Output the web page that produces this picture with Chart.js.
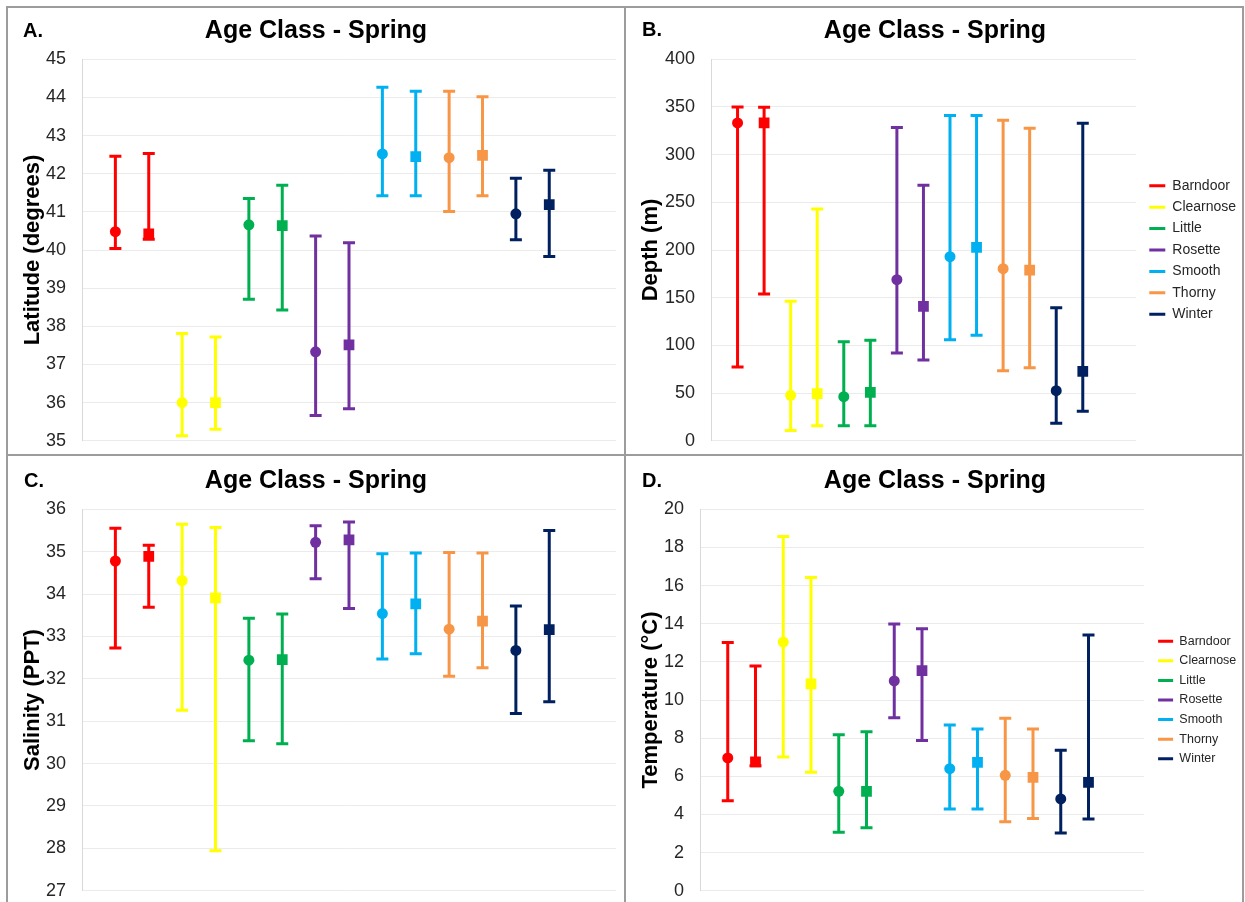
<!DOCTYPE html>
<html>
<head>
<meta charset="utf-8">
<script src="https://cdn.jsdelivr.net/npm/chart.js@4.4.1/dist/chart.umd.min.js"></script>
<style>
  html, body { margin: 0; padding: 0; background: #fff; }
  #page { position: relative; width: 1245px; height: 902px; overflow: hidden;
          font-family: "Liberation Sans", Arial, sans-serif; }
  .panel { position: absolute; width: 616px; height: 446px; }
  .rule { position: absolute; background: #9c9c9c; }
  .tag { position: absolute; font-weight: bold; font-size: 20px; line-height: 20px; color: #000; }
  .ttl { position: absolute; width: 400px; text-align: center; font-weight: bold;
         font-size: 25px; line-height: 30px; color: #000; white-space: nowrap; }
</style>
</head>
<body>
<div id="page">
  <div class="panel" style="left:8px;top:8px"><canvas id="chartLat" width="616" height="446"></canvas></div>
  <div class="panel" style="left:626px;top:8px"><canvas id="chartDepth" width="616" height="446"></canvas></div>
  <div class="panel" style="left:8px;top:456px"><canvas id="chartSal" width="616" height="446"></canvas></div>
  <div class="panel" style="left:626px;top:456px"><canvas id="chartTemp" width="616" height="446"></canvas></div>

  <div class="rule" style="left:6px;top:6px;width:1238px;height:2px"></div>
  <div class="rule" style="left:6px;top:454px;width:1238px;height:2px"></div>
  <div class="rule" style="left:6px;top:6px;width:2px;height:896px"></div>
  <div class="rule" style="left:624px;top:6px;width:2px;height:896px"></div>
  <div class="rule" style="left:1242px;top:6px;width:2px;height:896px"></div>

  <div class="tag" style="left:23px;top:20px">A.</div>
  <div class="tag" style="left:642px;top:19px">B.</div>
  <div class="tag" style="left:24px;top:470px">C.</div>
  <div class="tag" style="left:642px;top:470px">D.</div>

  <div class="ttl" style="left:116px;top:14px">Age Class - Spring</div>
  <div class="ttl" style="left:735px;top:14px">Age Class - Spring</div>
  <div class="ttl" style="left:116px;top:464px">Age Class - Spring</div>
  <div class="ttl" style="left:735px;top:464px">Age Class - Spring</div>
</div>

<script>
// Skate species, each with two age classes (circle = first class, square = second class)
const species = ['Barndoor', 'Clearnose', 'Little', 'Rosette', 'Smooth', 'Thorny', 'Winter'];
const speciesColors = ['#FF0000', '#FFFF00', '#00B050', '#7030A0', '#00B0F0', '#F79646', '#002060'];
const classStyles = ['circle', 'rect'];

// Values are listed per species as [class 1, class 2]
const latMean = [40.48, 40.42, 36.00, 36.00, 40.66, 40.64, 37.33, 37.51, 42.52, 42.45, 42.42, 42.48, 40.95, 41.19];
const latLow  = [40.04, 40.28, 35.13, 35.30, 38.71, 38.43, 35.66, 35.84, 41.42, 41.42, 41.01, 41.42, 40.27, 39.83];
const latHigh = [42.46, 42.53, 37.81, 37.72, 41.35, 41.70, 40.37, 40.19, 44.27, 44.16, 44.16, 44.02, 41.88, 42.09];

const depthMean = [333.3, 333.3, 47.6, 49.3, 46.2, 50.7, 168.9, 140.9, 193.0, 202.8, 180.4, 179.0, 52.5, 72.7];
const depthLow  = [77.3, 153.9, 10.8, 15.7, 15.7, 15.7, 92.0, 84.6, 106.0, 110.5, 73.4, 76.6, 18.2, 30.8];
const depthHigh = [350.0, 349.7, 146.2, 243.0, 103.9, 105.3, 328.4, 267.9, 341.0, 341.0, 336.0, 327.7, 139.5, 333.0];

const salMean = [34.78, 34.89, 34.32, 33.91, 32.44, 32.45, 35.22, 35.28, 33.54, 33.77, 33.17, 33.36, 32.67, 33.16];
const salLow  = [32.73, 33.69, 31.26, 27.94, 30.54, 30.47, 34.36, 33.66, 32.47, 32.59, 32.06, 32.26, 31.18, 31.46];
const salHigh = [35.55, 35.15, 35.65, 35.57, 33.43, 33.53, 35.61, 35.70, 34.95, 34.97, 34.98, 34.97, 33.72, 35.50];

const tempMean = [6.96, 6.75, 13.04, 10.84, 5.21, 5.21, 11.00, 11.54, 6.40, 6.73, 6.05, 5.94, 4.81, 5.68];
const tempLow  = [4.72, 6.55, 7.01, 6.21, 3.06, 3.30, 9.07, 7.87, 4.28, 4.28, 3.62, 3.79, 3.02, 3.76];
const tempHigh = [13.02, 11.78, 18.58, 16.43, 8.18, 8.34, 13.99, 13.74, 8.69, 8.48, 9.04, 8.48, 7.36, 13.41];

// y-axis tick values: [min, max, step]
const latTicks = [35, 45, 1];
const depthTicks = [0, 400, 50];
const salTicks = [27, 36, 1];
const tempTicks = [0, 20, 2];

const FONT = '"Liberation Sans", Arial, sans-serif';

// Vertical whiskers with caps, drawn behind the markers
const errorBars = {
  id: 'errorBars',
  beforeDatasetsDraw(chart) {
    const ctx = chart.ctx;
    const yScale = chart.scales.y;
    const cap = 6;
    chart.data.datasets.forEach((ds, di) => {
      const meta = chart.getDatasetMeta(di);
      meta.data.forEach((pt, i) => {
        const raw = ds.data[i];
        const yLo = yScale.getPixelForValue(raw.lo);
        const yHi = yScale.getPixelForValue(raw.hi);
        ctx.save();
        ctx.strokeStyle = ds.borderColor;
        ctx.lineWidth = 3;
        ctx.lineCap = 'butt';
        ctx.beginPath();
        ctx.moveTo(pt.x, yLo); ctx.lineTo(pt.x, yHi);
        ctx.moveTo(pt.x - cap, yLo); ctx.lineTo(pt.x + cap, yLo);
        ctx.moveTo(pt.x - cap, yHi); ctx.lineTo(pt.x + cap, yHi);
        ctx.stroke();
        ctx.restore();
      });
    });
  }
};

function buildDatasets(mean, low, high) {
  return species.map((name, s) => ({
    label: name,
    yAxisID: 'y',
    data: classStyles.map((_, c) => {
      const k = 2 * s + c;
      return { x: k + 1, y: mean[k], lo: low[k], hi: high[k] };
    }),
    backgroundColor: speciesColors[s],
    borderColor: speciesColors[s],
    borderWidth: 0,
    showLine: false,
    pointStyle: classStyles,
    pointRadius: [5.5, 7.6],
    pointHoverRadius: [5.5, 7.6],
    pointBorderWidth: 0
  }));
}

function makePanel(id, cfg) {
  const scales = {
    x: { type: 'linear', min: 0, max: 16, display: false },
    y: {
      type: 'linear',
      min: cfg.ticks[0], max: cfg.ticks[1],
      afterFit(scale) { scale.width = cfg.yWidth; },
      ticks: {
        stepSize: cfg.ticks[2],
        padding: 0,
        color: '#262626',
        font: { family: FONT, size: 18 }
      },
      // invisible tick marks keep the labels clear of the axis line
      grid: { color: '#ebebeb', lineWidth: 1, drawTicks: true, tickLength: 16, tickColor: 'rgba(0,0,0,0)' },
      border: { display: true, color: '#d9d9d9', width: 1 },
      title: {
        display: true,
        text: cfg.yTitle,
        color: '#000',
        padding: 0,
        font: { family: FONT, size: 22, weight: 'bold' }
      }
    }
  };
  if (cfg.legend) {
    // spacer between the plot area and the legend column
    scales.gap = {
      type: 'linear', position: 'right', display: true,
      grid: { display: false }, border: { display: false },
      ticks: { display: false },
      afterFit(scale) { scale.width = cfg.legend.gap; }
    };
  }
  const chart = new Chart(document.getElementById(id), {
    type: 'scatter',
    data: { datasets: buildDatasets(cfg.mean, cfg.low, cfg.high) },
    options: {
      responsive: false,
      animation: false,
      events: [],
      layout: { padding: cfg.padding },
      scales,
      plugins: {
        tooltip: { enabled: false },
        title: { display: false },
        legend: cfg.legend ? {
          display: true,
          position: 'right',
          fullSize: false,
          labels: {
            boxWidth: cfg.legend.boxWidth,
            boxHeight: 3,
            padding: cfg.legend.padding,
            color: '#262626',
            font: { family: FONT, size: cfg.legend.fontSize }
          }
        } : { display: false }
      }
    },
    plugins: [errorBars]
  });
  // keep the plot's right edge where the gridlines should end
  if (cfg.plotRight !== undefined) {
    for (let pass = 0; pass < 4; pass++) {
      const diff = chart.chartArea.right - cfg.plotRight;
      if (Math.abs(diff) < 0.2) break;
      chart.options.layout.padding.right += diff;
      chart.update();
    }
  }
  return chart;
}

makePanel('chartLat', {
  yTitle: 'Latitude (degrees)', mean: latMean, low: latLow, high: latHigh, ticks: latTicks,
  yWidth: 62, padding: { top: 51.3, left: 12, right: 8, bottom: 13.3 }
});
makePanel('chartDepth', {
  yTitle: 'Depth (m)', mean: depthMean, low: depthLow, high: depthHigh, ticks: depthTicks,
  yWidth: 73, padding: { top: 51.3, left: 12, right: 0, bottom: 13.3 }, plotRight: 510,
  legend: { gap: 6, boxWidth: 16, padding: 7.4, fontSize: 14 }
});
makePanel('chartSal', {
  yTitle: 'Salinity (PPT)', mean: salMean, low: salLow, high: salHigh, ticks: salTicks,
  yWidth: 62, padding: { top: 53.3, left: 12, right: 8, bottom: 11.3 }
});
makePanel('chartTemp', {
  yTitle: 'Temperature (°C)', mean: tempMean, low: tempLow, high: tempHigh, ticks: tempTicks,
  yWidth: 62, padding: { top: 53.3, left: 12, right: 0, bottom: 11.3 }, plotRight: 518,
  legend: { gap: 7, boxWidth: 15, padding: 7.1, fontSize: 12.5 }
});
</script>
</body>
</html>
